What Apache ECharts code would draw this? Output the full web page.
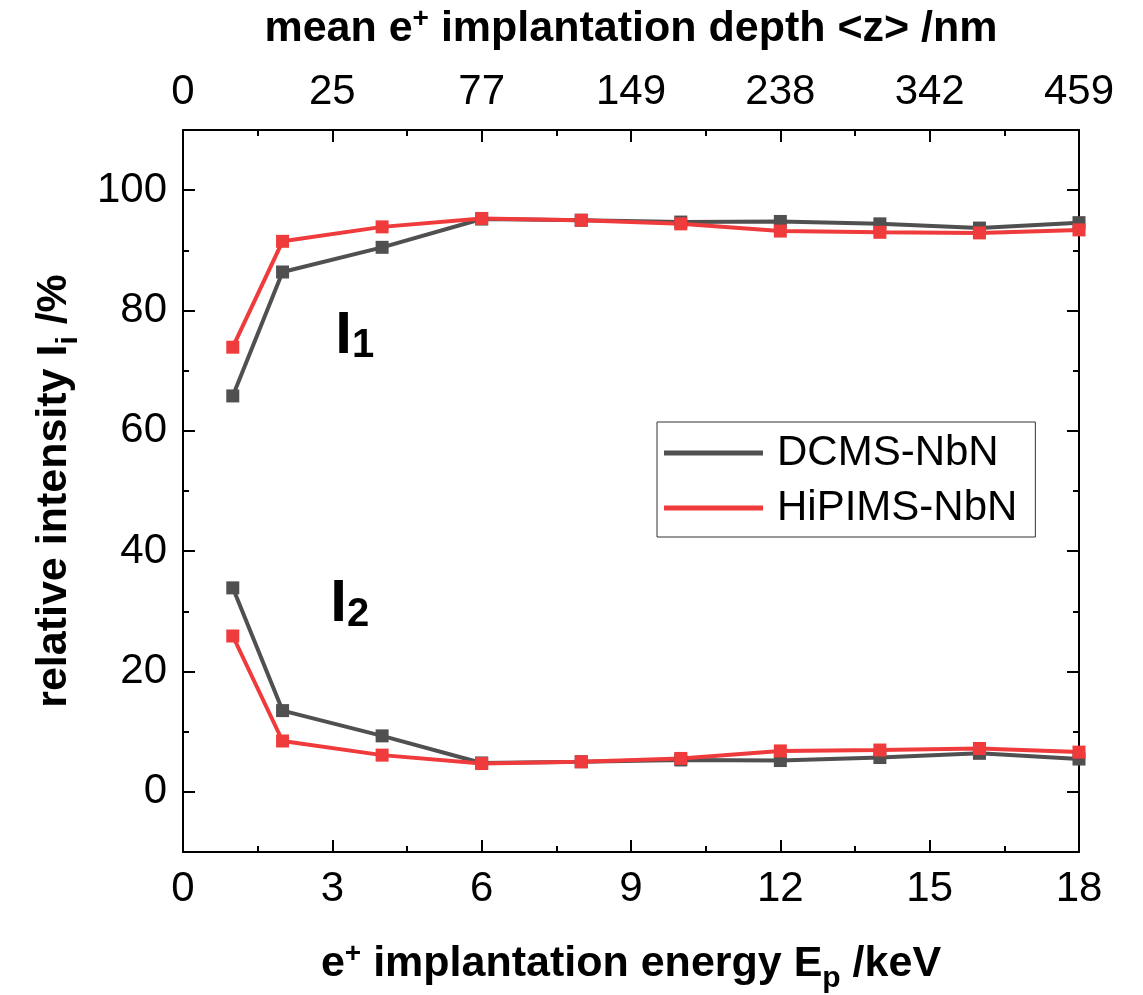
<!DOCTYPE html>
<html>
<head>
<meta charset="utf-8">
<script src="https://cdn.jsdelivr.net/npm/echarts@6/dist/echarts.min.js"></script>
<style>
  html, body { margin: 0; padding: 0; background: #fff; }
  #main { width: 1143px; height: 995px; }
</style>
</head>
<body>
<div id="main"></div>
<script>
// positron implantation energy, keV
var energy = [1, 2, 4, 6, 8, 10, 12, 14, 16, 18];
// relative intensities, %
var dcmsI1 = [65.8, 86.4, 90.5, 95.2, 95.0, 94.7, 94.8, 94.4, 93.7, 94.6];
var dcmsI2 = [33.9, 13.5, 9.3, 4.8, 5.0, 5.3, 5.2, 5.7, 6.4, 5.45];
var hipimsI1 = [73.9, 91.5, 93.9, 95.3, 95.0, 94.4, 93.2, 93.0, 92.9, 93.4];
var hipimsI2 = [25.9, 8.45, 6.1, 4.7, 5.0, 5.55, 6.8, 6.95, 7.2, 6.6];
// top axis: mean implantation depth at 0,3,6,...,18 keV
var depthLabels = ['0', '25', '77', '149', '238', '342', '459'];
var yMajor = [0, 20, 40, 60, 80, 100];
var yMinor = [10, 30, 50, 70, 90];
// I1 / I2 annotations [keV, %]
var annoI1 = [3.45, 75.7];
var annoI2 = [3.35, 31.1];

var FONT = 'Liberation Sans';
var GRAY = '#505050';
var RED = '#ef3b3b';

function pair(xs, ys) {
    return xs.map(function (x, i) { return [x, ys[i]]; });
}

var myChart = echarts.init(document.getElementById('main'));

var nameRich = {
    b: { fontFamily: FONT, fontSize: 43, fontWeight: 'bold', color: '#000', lineHeight: 48 },
    sup: { fontFamily: FONT, fontSize: 28, fontWeight: 'bold', color: '#000', lineHeight: 28, verticalAlign: 'top' },
    sub: { fontFamily: FONT, fontSize: 30, fontWeight: 'bold', color: '#000', lineHeight: 30, verticalAlign: 'bottom', padding: [0, 0, -6, 0] }
};

function yAxisDef(pos, vals, len, showLine, showLabel) {
    return {
        type: 'value',
        position: pos,
        min: -10,
        max: 110,
        axisLine: { show: showLine, onZero: false, lineStyle: { color: '#000', width: 2 } },
        axisTick: { show: true, inside: true, length: len, customValues: vals, lineStyle: { color: '#000', width: 2 } },
        axisLabel: { show: showLabel, customValues: vals, fontFamily: FONT, fontSize: 42, color: '#000', margin: 16 },
        splitLine: { show: false }
    };
}

var yLeft = yAxisDef('left', yMajor, 12, true, true);
yLeft.name = '{b|relative intensity I}{sub|i}{b| /%}';
yLeft.nameLocation = 'middle';
yLeft.nameGap = 105;
yLeft.nameTextStyle = { rich: nameRich };

function xAxisDef(pos) {
    return {
        type: 'value',
        position: pos,
        min: 0,
        max: 18,
        interval: 3,
        axisLine: { show: true, onZero: false, lineStyle: { color: '#000', width: 2 } },
        axisTick: { show: true, inside: true, length: 12, lineStyle: { color: '#000', width: 2 } },
        minorTick: { show: true, splitNumber: 2, length: 6, lineStyle: { color: '#000', width: 2 } },
        axisLabel: { fontFamily: FONT, fontSize: 42, color: '#000', margin: 16 },
        splitLine: { show: false },
        minorSplitLine: { show: false }
    };
}

var xBottom = xAxisDef('bottom');
xBottom.name = '{b|e}{sup|+}{b| implantation energy E}{sub|p}{b| /keV}';
xBottom.nameLocation = 'middle';
xBottom.nameGap = 88;
xBottom.nameTextStyle = { rich: nameRich };

var xTop = xAxisDef('top');
xTop.axisLabel.margin = 17;
xTop.axisLabel.formatter = function (v) { return depthLabels[Math.round(v / 3)]; };
xTop.name = '{b|mean e}{sup|+}{b| implantation depth <z> /nm}';
xTop.nameLocation = 'middle';
xTop.nameGap = 77;
xTop.nameTextStyle = { rich: nameRich };

function lineSeries(name, color, data) {
    return {
        type: 'line',
        name: name,
        xAxisIndex: 0,
        yAxisIndex: 0,
        data: data,
        symbol: 'rect',
        symbolSize: 13,
        lineStyle: { color: color, width: 4 },
        itemStyle: { color: color },
        emphasis: { disabled: true },
        animation: false
    };
}

var annoRich = {
    i: { fontFamily: FONT, fontSize: 60, fontWeight: 'bold', color: '#000', lineHeight: 60, verticalAlign: 'top', padding: [0, 0, 15, 0] },
    s: { fontFamily: FONT, fontSize: 40, fontWeight: 'bold', color: '#000', lineHeight: 40, verticalAlign: 'bottom' }
};

option = {
    backgroundColor: '#fff',
    animation: false,
    grid: { left: 183, right: 64, top: 130, bottom: 143, outerBoundsMode: 'none' },
    legend: {
        data: ['DCMS-NbN', 'HiPIMS-NbN'],
        orient: 'vertical',
        left: 657,
        top: 422,
        icon: 'rect',
        itemWidth: 99,
        itemHeight: 5,
        itemGap: 13,
        padding: [10, 18, 8, 7],
        borderColor: '#333',
        borderWidth: 1,
        textStyle: { fontFamily: FONT, fontSize: 42, color: '#000', padding: [0, 0, 0, 9] },
        selectedMode: false
    },
    xAxis: [xBottom, xTop],
    yAxis: [
        yLeft,
        yAxisDef('left', yMinor, 6, false, false),
        yAxisDef('right', yMajor, 12, true, false),
        yAxisDef('right', yMinor, 6, false, false)
    ],
    series: [
        lineSeries('DCMS-NbN', GRAY, pair(energy, dcmsI1)),
        lineSeries('DCMS-NbN', GRAY, pair(energy, dcmsI2)),
        lineSeries('HiPIMS-NbN', RED, pair(energy, hipimsI1)),
        lineSeries('HiPIMS-NbN', RED, pair(energy, hipimsI2)),
        {
            type: 'scatter',
            name: 'labels',
            symbolSize: 0,
            silent: true,
            itemStyle: { opacity: 1 },
            data: [
                { value: annoI1, label: { formatter: '{i|I}{s|1}' } },
                { value: annoI2, label: { formatter: '{i|I}{s|2}' } }
            ],
            label: { show: true, position: 'inside', color: '#000', rich: annoRich },
            animation: false
        }
    ]
};
myChart.setOption(option);
</script>
</body>
</html>
